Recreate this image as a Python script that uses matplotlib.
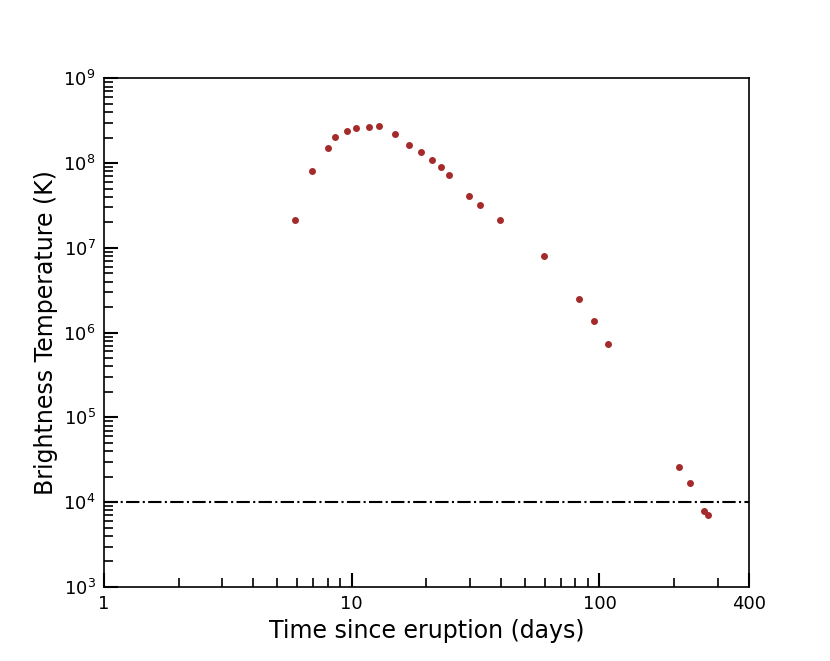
import matplotlib
matplotlib.use("Agg")
import matplotlib.pyplot as plt
from matplotlib.ticker import FixedLocator, FixedFormatter, LogLocator, NullFormatter

days = [5.91, 6.91, 8.01, 8.52, 9.53, 10.4, 11.7, 12.9, 14.9, 17.0, 19.0, 21.0,
        22.9, 24.8, 29.8, 32.8, 39.8, 59.8, 83.0, 94.8, 108, 210, 231, 265, 273]
tb = [2.13e7, 8.11e7, 1.49e8, 2.03e8, 2.38e8, 2.57e8, 2.66e8, 2.71e8, 2.20e8,
      1.64e8, 1.36e8, 1.08e8, 9.04e7, 7.16e7, 4.05e7, 3.17e7, 2.11e7, 8.07e6,
      2.47e6, 1.37e6, 7.4e5, 2.6e4, 1.68e4, 7.8e3, 7.0e3]
threshold = 1e4
x_ticks = [1, 10, 100, 400]
x_ticklabels = ["1", "10", "100", "400"]

fig = plt.figure(figsize=(8.3, 6.61), dpi=100)
ax = fig.add_axes([0.1253, 0.112, 0.902 - 0.1253, 0.8815 - 0.112])

ax.plot(days, tb, 'o', color='#a52a2a', markersize=5, markeredgewidth=0)
ax.axhline(threshold, color='black', linestyle='-.', linewidth=1.5)

ax.set_xscale('log')
ax.set_yscale('log')
ax.set_xlim(1, 400)
ax.set_ylim(1e3, 1e9)

ax.xaxis.set_major_locator(FixedLocator(x_ticks))
ax.xaxis.set_major_formatter(FixedFormatter(x_ticklabels))
ax.xaxis.set_minor_locator(LogLocator(base=10, subs=range(2, 10), numticks=20))
ax.xaxis.set_minor_formatter(NullFormatter())
ax.yaxis.set_major_locator(LogLocator(base=10, numticks=20))
ax.yaxis.set_minor_locator(LogLocator(base=10, subs=range(2, 10), numticks=20))
ax.yaxis.set_minor_formatter(NullFormatter())

ax.tick_params(which='both', direction='in', top=False, right=False)
ax.tick_params(which='major', length=10, width=1.5, labelsize=13, pad=6)
ax.tick_params(which='minor', length=6.5, width=1.2)
for s in ax.spines.values():
    s.set_linewidth(1.2)

ax.set_xlabel('Time since eruption (days)', fontsize=17)
ax.set_ylabel('Brightness Temperature (K)', fontsize=17)

fig.savefig('out.png', dpi=100)
